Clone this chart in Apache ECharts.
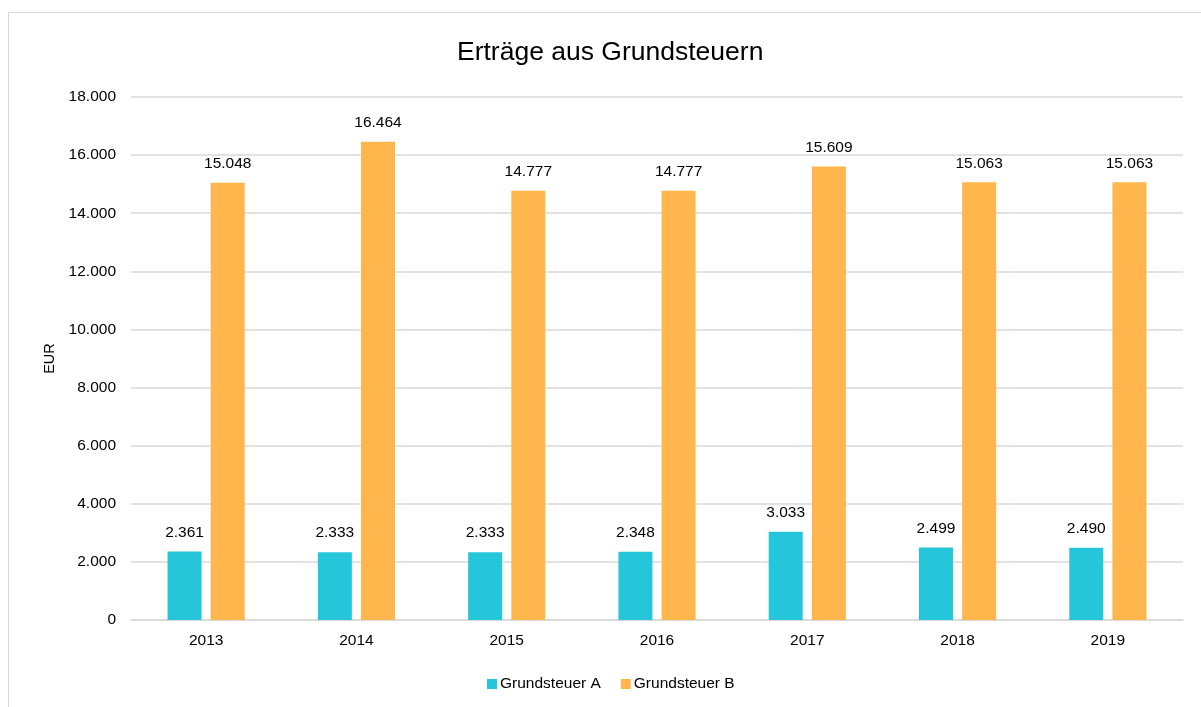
<!DOCTYPE html>
<html>
<head>
<meta charset="utf-8">
<script src="https://cdn.jsdelivr.net/npm/echarts@6/dist/echarts.min.js"></script>
<style>
html,body{margin:0;padding:0;background:#fff;overflow:hidden;}
#frame{position:absolute;left:8px;top:12px;width:1300px;height:800px;border:1.5px solid #d9d9d9;box-sizing:border-box;}
#chart{position:absolute;left:0;top:0;width:1201px;height:707px;}
</style>
</head>
<body>
<div id="frame"></div>
<div id="chart"></div>
<script>
const categories = ['2013','2014','2015','2016','2017','2018','2019'];
const grundsteuerA = [2361, 2333, 2333, 2348, 3033, 2499, 2490];
const grundsteuerB = [15048, 16464, 14777, 14777, 15609, 15063, 15063];
const yTicks = [0, 2000, 4000, 6000, 8000, 10000, 12000, 14000, 16000, 18000];

function fmt(v){ return String(v).replace(/\B(?=(\d{3})+(?!\d))/g, '.'); }

const chart = echarts.init(document.getElementById('chart'), null, {renderer:'canvas'});
const font = 'Liberation Sans, Arial, sans-serif';
chart.setOption({
  backgroundColor: 'transparent',
  animation: false,
  textStyle: {fontFamily: font},
  title: {
    text: 'Erträge aus Grundsteuern',
    left: 452, top: 34,
    textStyle: {fontFamily: font, fontSize: 26.5, fontWeight: 'normal', color: '#000'}
  },
  legend: {
    top: 671, left: 482,
    itemWidth: 10, itemHeight: 10, itemGap: 20,
    icon: 'rect',
    textStyle: {fontFamily: font, fontSize: 15.5, color: '#000', padding:[0,0,0,-2]},
    data: ['Grundsteuer A', 'Grundsteuer B']
  },
  grid: {left: 131, right: 18, top: 97, bottom: 87, containLabel: false},
  xAxis: {
    type: 'category', data: categories,
    axisLine: {lineStyle: {color: '#d9d9d9', width: 1.5}},
    axisTick: {show: false},
    axisLabel: {fontFamily: font, fontSize: 15.5, color: '#000', margin: 13}
  },
  yAxis: {
    type: 'value', min: yTicks[0], max: yTicks[yTicks.length-1], interval: 2000,
    name: 'EUR', nameLocation: 'middle', nameGap: 73, nameRotate: 90,
    nameTextStyle: {fontFamily: font, fontSize: 14.5, color: '#000'},
    axisLine: {show: false}, axisTick: {show: false},
    splitLine: {lineStyle: {color: '#d9d9d9', width: 1.5}},
    axisLabel: {fontFamily: font, fontSize: 15.5, color: '#000', margin: 15, formatter: fmt}
  },
  series: [
    {
      name: 'Grundsteuer A', type: 'bar', data: grundsteuerA,
      barWidth: 34, barGap: '27%',
      itemStyle: {color: '#26C6DA'},
      label: {show: true, position: 'top', distance: 11, fontFamily: font, fontSize: 15.5, color: '#000', formatter: p => fmt(p.value)}
    },
    {
      name: 'Grundsteuer B', type: 'bar', data: grundsteuerB,
      barWidth: 34, barGap: '27%',
      itemStyle: {color: '#FFB74D'},
      label: {show: true, position: 'top', distance: 11, fontFamily: font, fontSize: 15.5, color: '#000', formatter: p => fmt(p.value)}
    }
  ]
});
</script>
</body>
</html>
